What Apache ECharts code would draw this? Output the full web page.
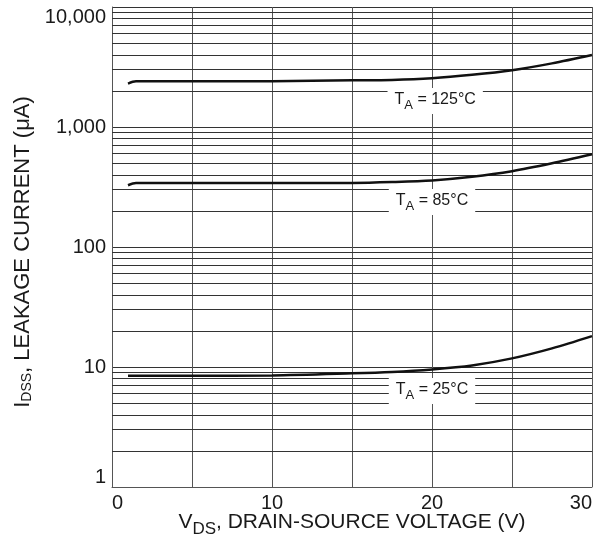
<!DOCTYPE html>
<html>
<head>
<meta charset="utf-8">
<script src="https://cdn.jsdelivr.net/npm/echarts@6/dist/echarts.min.js"></script>
<style>
html,body{margin:0;padding:0;background:#fff;}
#chart{width:608px;height:542px;}
</style>
</head>
<body>
<div id="chart"></div>
<script>
// ---- data ----
const xTickLabels = ['0', '10', '20', '30'];
const yTickLabels = ['1', '10', '100', '1,000', '10,000'];
const yTickValues = [1, 10, 100, 1000, 10000];
const minorGridValues = [2,3,4,5,6,7,8,9, 20,30,40,50,60,70,80,90, 200,300,400,500,600,700,800,900, 2000,3000,4000,5000,6000,7000,8000,9000];

const curve125 = [[1,2300],[1.5,2400],[5,2400],[10,2410],[15,2450],[17.5,2470],[20,2550],[22.5,2720],[25,2970],[27.5,3390],[30,3980]];
const curve85  = [[1,327],[1.5,341],[5,341],[10,341],[15,342],[17.5,348],[20,359],[22.5,385],[25,428],[27.5,498],[30,592]];
const curve25  = [[1,8.45],[5,8.45],[10,8.5],[15,8.85],[17.5,9.1],[20,9.55],[22.5,10.3],[25,11.8],[27.5,14.3],[30,18.1]];

const labelTemps = ['125°C', '85°C', '25°C'];
const labelAnchors = [[20.2, 1648], [20, 237], [20, 6.31]];

// ---- chart ----
const font = '"Liberation Sans", Arial, Helvetica, sans-serif';
const chart = echarts.init(document.getElementById('chart'), null, {renderer: 'canvas'});

function tempLabel(i) {
  return {
    coord: labelAnchors[i],
    symbol: 'rect',
    symbolSize: 1,
    itemStyle: {color: 'rgba(0,0,0,0)'},
    label: {
      show: true,
      position: 'inside',
      formatter: '{t|T}{s|A}{t| = ' + labelTemps[i] + '}',
      backgroundColor: '#fff',
      padding: [4, 7, 2, 7],
      rich: {
        t: {fontFamily: font, fontSize: 16, color: '#1a1a1a', lineHeight: 18, verticalAlign: 'top'},
        s: {fontFamily: font, fontSize: 13, color: '#1a1a1a', lineHeight: 20, verticalAlign: 'bottom'}
      }
    }
  };
}

function curveSeries(data, i) {
  return {
    type: 'line',
    data: data,
    smooth: 0.3,
    symbol: 'none',
    z: 5,
    lineStyle: {color: '#111', width: 2.5},
    markPoint: {
      silent: true,
      z: 6,
      data: [tempLabel(i)]
    }
  };
}

const option = {
  animation: false,
  backgroundColor: '#fff',
  grid: {left: 112, right: 16, top: 7, bottom: 55, containLabel: false, outerBoundsMode: 'none'},
  xAxis: {
    type: 'value',
    min: 0, max: 30, interval: 5,
    axisLine: {show: true, lineStyle: {color: '#555', width: 1}},
    axisTick: {show: false},
    splitLine: {show: true, lineStyle: {color: '#555', width: 1}},
    axisLabel: {
      margin: 6,
      fontFamily: font, fontSize: 20, color: '#1a1a1a',
      alignMinLabel: 'left', alignMaxLabel: 'right',
      formatter: function (v) { const s = String(v); return xTickLabels.indexOf(s) >= 0 ? s : ''; }
    },
    name: '{v|V}{s|DS}{n|, DRAIN-SOURCE VOLTAGE (V)}',
    nameLocation: 'middle',
    nameGap: 25,
    nameMoveOverlap: false,
    nameTextStyle: {
      rich: {
        v: {fontFamily: font, fontSize: 21, color: '#1a1a1a', lineHeight: 22, verticalAlign: 'top'},
        n: {fontFamily: font, fontSize: 21, color: '#1a1a1a', lineHeight: 22, verticalAlign: 'top'},
        s: {fontFamily: font, fontSize: 17, color: '#1a1a1a', lineHeight: 26, verticalAlign: 'bottom'}
      }
    }
  },
  yAxis: {
    type: 'log',
    logBase: 10,
    min: 1, max: 10000,
    axisLine: {show: true, lineStyle: {color: '#555', width: 1}},
    axisTick: {show: false},
    splitLine: {show: true, lineStyle: {color: '#333', width: 1}},
    axisLabel: {
      margin: 6,
      fontFamily: font, fontSize: 20, color: '#1a1a1a',
      verticalAlignMinLabel: 'bottom', verticalAlignMaxLabel: 'top',
      formatter: function (v) {
        const idx = yTickValues.indexOf(Math.round(v));
        return idx >= 0 ? yTickLabels[idx] : '';
      }
    },
    name: '{i|I}{s|DSS}{n|, LEAKAGE CURRENT (μA)}',
    nameLocation: 'middle',
    nameRotate: 90,
    nameGap: 78,
    nameMoveOverlap: false,
    nameTextStyle: {
      padding: [0, 10, 0, 0],
      rich: {
        i: {fontFamily: font, fontSize: 22, color: '#1a1a1a', lineHeight: 24, verticalAlign: 'bottom'},
        n: {fontFamily: font, fontSize: 22, color: '#1a1a1a', lineHeight: 24, verticalAlign: 'bottom'},
        s: {fontFamily: font, fontSize: 14, color: '#1a1a1a', lineHeight: 16, verticalAlign: 'bottom'}
      }
    }
  },
  series: [
    {
      type: 'line',
      data: [],
      z: 1,
      silent: true,
      markLine: {
        silent: true,
        symbol: ['none', 'none'],
        z: 1,
        animation: false,
        label: {show: false},
        lineStyle: {color: '#333', width: 1, type: 'solid'},
        data: minorGridValues.map(function (v) { return {yAxis: v}; })
      }
    },
    curveSeries(curve125, 0),
    curveSeries(curve85, 1),
    curveSeries(curve25, 2)
  ]
};
chart.setOption(option);
</script>
</body>
</html>
